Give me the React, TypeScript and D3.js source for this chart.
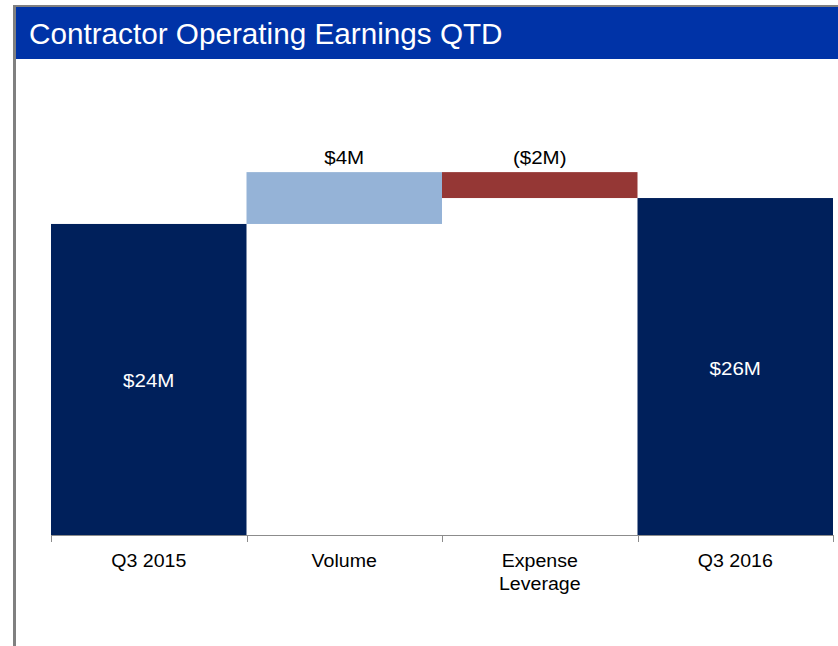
import React, { useEffect, useRef } from 'react';
import * as d3 from 'd3';

const title = "Contractor Operating Earnings QTD";
const categories = ["Q3 2015", "Volume", "Expense Leverage", "Q3 2016"];
const values = [24, 4, -2, 26];
const kinds = ["total", "delta", "delta", "total"];
const valueLabels = ["$24M", "$4M", "($2M)", "$26M"];
const yDomainMax = 30;

const navy = "#00205b";
const upColor = "#95b3d7";
const downColor = "#953735";

const App = () => {
    const svgRef = useRef<SVGSVGElement>(null);

    useEffect(() => {
        const svg = d3.select(svgRef.current);
        svg.selectAll("*").remove();

        const width = 838;
        const height = 646;
        const axisY = 535;

        svg.attr("width", width).attr("height", height);

        // frame + header
        svg.append("rect").attr("x", 13).attr("y", 5).attr("width", width - 13).attr("height", 2).attr("fill", "#808080");
        svg.append("rect").attr("x", 13).attr("y", 5).attr("width", 3).attr("height", height - 5).attr("fill", "#808080");
        svg.append("rect").attr("x", 16).attr("y", 7).attr("width", width - 16).attr("height", 52).attr("fill", "#0033a7");
        svg.append("text")
            .attr("x", 29)
            .attr("y", 44)
            .attr("fill", "#fff")
            .style("font-family", "'Liberation Sans', Arial, sans-serif")
            .style("font-size", "29.7px")
            .text(title);

        const xScale = d3.scaleBand<string>()
            .domain(categories)
            .range([51, 833])
            .padding(0);

        const yScale = d3.scaleLinear()
            .domain([0, yDomainMax])
            .range([axisY, axisY - yDomainMax * 12.96]);

        // running totals for the waterfall
        let running = 0;
        const bars = categories.map((c, i) => {
            let start, end;
            if (kinds[i] === "total") {
                start = 0;
                end = values[i];
                running = values[i];
            } else {
                start = running;
                end = running + values[i];
                running = end;
            }
            return { cat: c, start, end, kind: kinds[i], value: values[i], label: valueLabels[i] };
        });

        const fillFor = (d) => d.kind === "total" ? navy : (d.value >= 0 ? upColor : downColor);

        svg.selectAll(".bar")
            .data(bars)
            .enter()
            .append("rect")
            .attr("class", "bar")
            .attr("x", (d) => xScale(d.cat))
            .attr("y", (d) => yScale(Math.max(d.start, d.end)))
            .attr("width", xScale.bandwidth())
            .attr("height", (d) => Math.abs(yScale(d.start) - yScale(d.end)))
            .attr("fill", fillFor);

        const labelFont = "'Liberation Sans', Arial, sans-serif";

        svg.selectAll(".val")
            .data(bars)
            .enter()
            .append("text")
            .attr("class", "val")
            .attr("transform", (d) => {
                const cx = xScale(d.cat) + xScale.bandwidth() / 2;
                const cy = d.kind === "total"
                    ? (yScale(d.start) + yScale(d.end)) / 2 + 8
                    : yScale(Math.max(d.start, d.end)) - 8;
                return `translate(${cx},${cy}) scale(1.14,1)`;
            })
            .attr("text-anchor", "middle")
            .attr("fill", (d) => d.kind === "total" ? "#fff" : "#000")
            .style("font-family", labelFont)
            .style("font-size", "18px")
            .text((d) => d.label);

        // axis
        const axis = svg.append("g");
        axis.append("line")
            .attr("x1", 51).attr("x2", 833)
            .attr("y1", axisY + 0.5).attr("y2", axisY + 0.5)
            .attr("stroke", "#8c8c8c");
        const tickXs = categories.map((c) => xScale(c)).concat([xScale(categories[categories.length - 1]) + xScale.bandwidth()]);
        axis.selectAll(".tick")
            .data(tickXs)
            .enter()
            .append("line")
            .attr("x1", (d) => Math.round(d) + 0.5).attr("x2", (d) => Math.round(d) + 0.5)
            .attr("y1", axisY).attr("y2", axisY + 7)
            .attr("stroke", "#8c8c8c");

        const catText = axis.selectAll(".cat")
            .data(categories)
            .enter()
            .append("text")
            .attr("class", "cat")
            .attr("transform", (d) => `translate(${xScale(d) + xScale.bandwidth() / 2},567) scale(1.12,1)`)
            .attr("text-anchor", "middle")
            .attr("fill", "#000")
            .style("font-family", labelFont)
            .style("font-size", "17.5px");

        catText.each(function (d) {
            const words = d.length > 10 ? d.split(" ") : [d];
            const t = d3.select(this);
            words.forEach((w, i) => {
                t.append("tspan").attr("x", 0).attr("dy", i === 0 ? 0 : 23).text(w);
            });
        });
    }, []);

    return (
        <svg ref={svgRef} style={{ position: "absolute", left: 0, top: 0, background: "#fff" }}></svg>
    );
};

export default App;
